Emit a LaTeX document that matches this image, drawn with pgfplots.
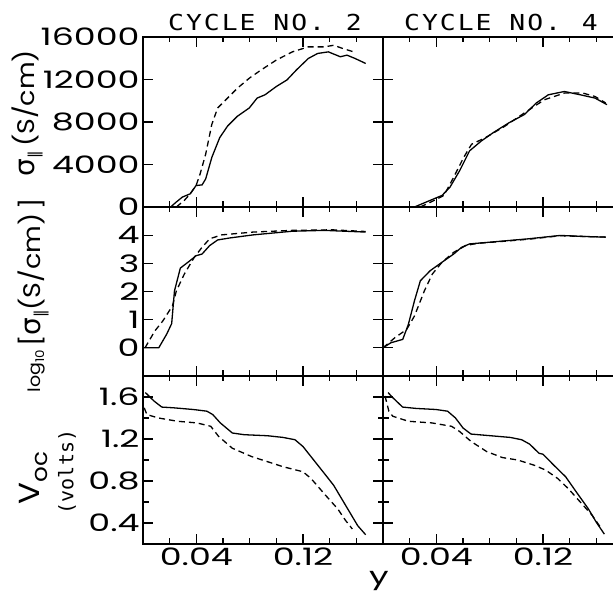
\documentclass[border=0pt]{standalone}
\usepackage{pgfplots}
\pgfplotsset{compat=1.18}
\usepackage{fontspec}
\setmainfont{Poppins}[FakeStretch=1.45]
\newfontfamily\labelfont{Poppins}[FakeStretch=1.12]
\newfontfamily\monofont{DejaVu Sans Mono}
\newfontfamily\titlefont{DejaVu Sans Mono}[FakeStretch=1.2, LetterSpace=9]
\newfontfamily\greekfont{DejaVu Sans}
\begin{document}
\begin{tikzpicture}
\path[use as bounding box] (0pt,0pt) rectangle (613pt,591pt);
\clip (0pt,0pt) rectangle (613pt,591pt);
\pgfplotsset{
  panel/.style={
    scale only axis, width=240pt,
    xmin=0, xmax=0.18,
    scaled x ticks=false, scaled y ticks=false,
    tick align=inside,
    axis line style={line width=1.4pt},
    major tick length=10pt, minor tick length=5.5pt,
    every tick/.style={black, line width=1.1pt},
    xtick={0.04,0.12}, minor xtick={0.02,0.06,0.08,0.10,0.14,0.16},
    xticklabels={},
    tick label style={font=\fontsize{24}{24}\selectfont},
  },
  sl/.style={black, line width=1.3pt, no marks},
  dl/.style={black, line width=1.3pt, no marks, dash pattern=on 6pt off 4pt},
}
% ---------- top row ----------
\begin{axis}[panel, at={(143pt,384pt)}, anchor=south west, height=170pt,
  ymin=0, ymax=16000, ytick={0,4000,8000,12000,16000},
  yticklabels={0,4000,8000,12000,16000}]
\addplot[sl] coordinates {(0.0207,0) (0.025,470) (0.0295,930) (0.0354,1240) (0.0398,2020) (0.0443,2080) (0.047,2640) (0.0516,4660) (0.0575,6520) (0.0634,7610) (0.0708,8540) (0.0797,9320) (0.0856,10250) (0.0915,10560) (0.100,11340) (0.108,11960) (0.115,12890) (0.124,13980) (0.131,14450) (0.139,14600) (0.148,14140) (0.153,14290) (0.159,13980) (0.167,13510)};
\addplot[dl] coordinates {(0.025,0) (0.031,620) (0.0354,1240) (0.0398,2020) (0.0428,3100) (0.047,4970) (0.0516,7770) (0.056,9320) (0.0634,10250) (0.0708,11180) (0.0797,12120) (0.0885,12890) (0.100,13830) (0.112,14600) (0.124,15070) (0.136,15070) (0.143,15220) (0.150,14910) (0.158,14600)};
\end{axis}
\begin{axis}[panel, at={(383pt,384pt)}, anchor=south west, height=170pt,
  ymin=0, ymax=16000, ytick={0,4000,8000,12000,16000}, yticklabels={}]
\addplot[sl] coordinates {(0.0236,0) (0.0325,470) (0.0443,1090) (0.0502,1860) (0.0575,3420) (0.0649,5280) (0.0737,6210) (0.0826,6990) (0.0944,7920) (0.106,8700) (0.115,9790) (0.124,10560) (0.136,10870) (0.148,10560) (0.159,10250) (0.168,9630)};
\addplot[dl] coordinates {(0.028,0) (0.0384,620) (0.0457,1090) (0.053,2800) (0.0605,4660) (0.0664,5900) (0.0767,6520) (0.0915,7610) (0.106,8850) (0.121,10090) (0.136,10720) (0.150,10720) (0.159,10400) (0.167,9790)};
\end{axis}
% ---------- middle row ----------
\begin{axis}[panel, at={(143pt,215pt)}, anchor=south west, height=169pt,
  ymin=-1, ymax=5, ytick={-1,0,1,2,3,4,5}, yticklabels={,0,1,2,3,4,}]
\addplot[sl] coordinates {(0.0006,0) (0.0118,0) (0.0177,0.48) (0.0215,0.86) (0.0236,2.02) (0.028,2.83) (0.0354,3.10) (0.0398,3.27) (0.0443,3.33) (0.050,3.63) (0.056,3.83) (0.065,3.90) (0.0826,4.01) (0.112,4.14) (0.136,4.17) (0.167,4.11)};
\addplot[dl] coordinates {(0.0015,0) (0.0089,0.6) (0.0148,0.95) (0.0221,1.49) (0.025,2.02) (0.031,2.62) (0.0384,3.21) (0.0443,3.57) (0.050,3.87) (0.059,4.01) (0.0826,4.11) (0.112,4.17) (0.142,4.19) (0.167,4.13)};
\end{axis}
\begin{axis}[panel, at={(383pt,215pt)}, anchor=south west, height=169pt,
  ymin=-1, ymax=5, ytick={-1,0,1,2,3,4,5}, yticklabels={}]
\addplot[sl] coordinates {(0,0) (0.0059,0.18) (0.0148,0.30) (0.019,0.83) (0.0236,1.67) (0.028,2.38) (0.0354,2.74) (0.0443,3.04) (0.053,3.33) (0.059,3.57) (0.065,3.69) (0.080,3.75) (0.109,3.87) (0.133,3.99) (0.153,3.95) (0.167,3.93)};
\addplot[dl] coordinates {(0,0) (0.0089,0.36) (0.0177,0.65) (0.0236,1.13) (0.031,2.02) (0.037,2.62) (0.0443,3.04) (0.053,3.39) (0.062,3.63) (0.0708,3.71) (0.09,3.78) (0.11,3.86) (0.133,3.98) (0.153,3.95) (0.167,3.93)};
\end{axis}
% ---------- bottom row ----------
\begin{axis}[panel, at={(143pt,47pt)}, anchor=south west, height=168pt,
  ymin=0.2, ymax=1.8, ytick={0.4,0.8,1.2,1.6}, minor ytick={0.6,1.0,1.4},
  yticklabels={0.4,0.8,1.2,1.6}, xticklabels={0.04,0.12}]
\addplot[sl] coordinates {(0.0018,1.642) (0.0082,1.562) (0.0141,1.504) (0.023,1.497) (0.0376,1.481) (0.0479,1.465) (0.0523,1.433) (0.058,1.353) (0.067,1.257) (0.0758,1.241) (0.0934,1.231) (0.105,1.215) (0.114,1.193) (0.120,1.128) (0.129,0.984) (0.137,0.856) (0.143,0.759) (0.152,0.567) (0.161,0.375) (0.167,0.288)};
\addplot[dl] coordinates {(0.0009,1.497) (0.0029,1.433) (0.0112,1.401) (0.0258,1.369) (0.0405,1.353) (0.0508,1.321) (0.0567,1.225) (0.067,1.112) (0.0816,1.032) (0.0934,0.984) (0.105,0.936) (0.120,0.888) (0.126,0.824) (0.137,0.663) (0.146,0.535) (0.152,0.423) (0.157,0.343)};
\end{axis}
\begin{axis}[panel, at={(383pt,47pt)}, anchor=south west, height=168pt,
  ymin=0.2, ymax=1.8, ytick={0.4,0.8,1.2,1.6}, minor ytick={0.6,1.0,1.4},
  yticklabels={}, xticklabels={0.04,0.12}]
\addplot[sl] coordinates {(0.0038,1.642) (0.0073,1.594) (0.0147,1.504) (0.025,1.491) (0.0396,1.481) (0.0484,1.465) (0.0543,1.401) (0.060,1.305) (0.066,1.247) (0.0808,1.231) (0.0954,1.215) (0.104,1.193) (0.110,1.151) (0.117,1.064) (0.120,1.055) (0.128,0.952) (0.137,0.840) (0.145,0.695) (0.154,0.535) (0.160,0.407) (0.166,0.294)};
\addplot[dl] coordinates {(0.0015,1.61) (0.0044,1.465) (0.0073,1.417) (0.019,1.369) (0.0367,1.353) (0.0514,1.321) (0.0573,1.273) (0.066,1.177) (0.0778,1.080) (0.0896,1.023) (0.101,1.000) (0.113,0.952) (0.122,0.904) (0.131,0.824) (0.139,0.727) (0.148,0.599) (0.157,0.471) (0.164,0.343)};
\end{axis}
% ---------- titles and labels ----------
\node[anchor=base west, inner sep=0pt] at (168pt,560pt) {\titlefont\fontsize{22}{22}\selectfont CYCLE NO.\hspace{3pt} 2};
\node[anchor=base west, inner sep=0pt] at (404pt,560pt) {\titlefont\fontsize{22}{22}\selectfont CYCLE NO.\hspace{3pt} 4};
\node[rotate=90] at (27pt,478pt) {\labelfont\fontsize{24}{24}\selectfont{\greekfont\fontsize{28}{28}\selectfont σ}\raisebox{-5pt}{\fontsize{15}{15}\selectfont\greekfont ‖}\,(S/cm)};
\node[rotate=90] at (33pt,296pt) {\labelfont\fontsize{17}{17}\selectfont log\raisebox{-4pt}{\fontsize{12}{12}\selectfont 10}\,\fontsize{24}{24}\selectfont[{\greekfont\fontsize{28}{28}\selectfont σ}\raisebox{-5pt}{\fontsize{15}{15}\selectfont\greekfont ‖}(S/cm)\,]};
\node[rotate=90] at (33pt,113pt) {\labelfont\fontsize{29}{29}\selectfont V\raisebox{-8pt}{\fontsize{22}{22}\selectfont oc}};
\node[rotate=90] at (67pt,119pt) {\monofont\fontsize{20}{20}\selectfont (volts)};
\node[anchor=base, inner sep=0pt] at (379pt,6pt) {\fontsize{24}{24}\selectfont y};
\end{tikzpicture}
\end{document}
